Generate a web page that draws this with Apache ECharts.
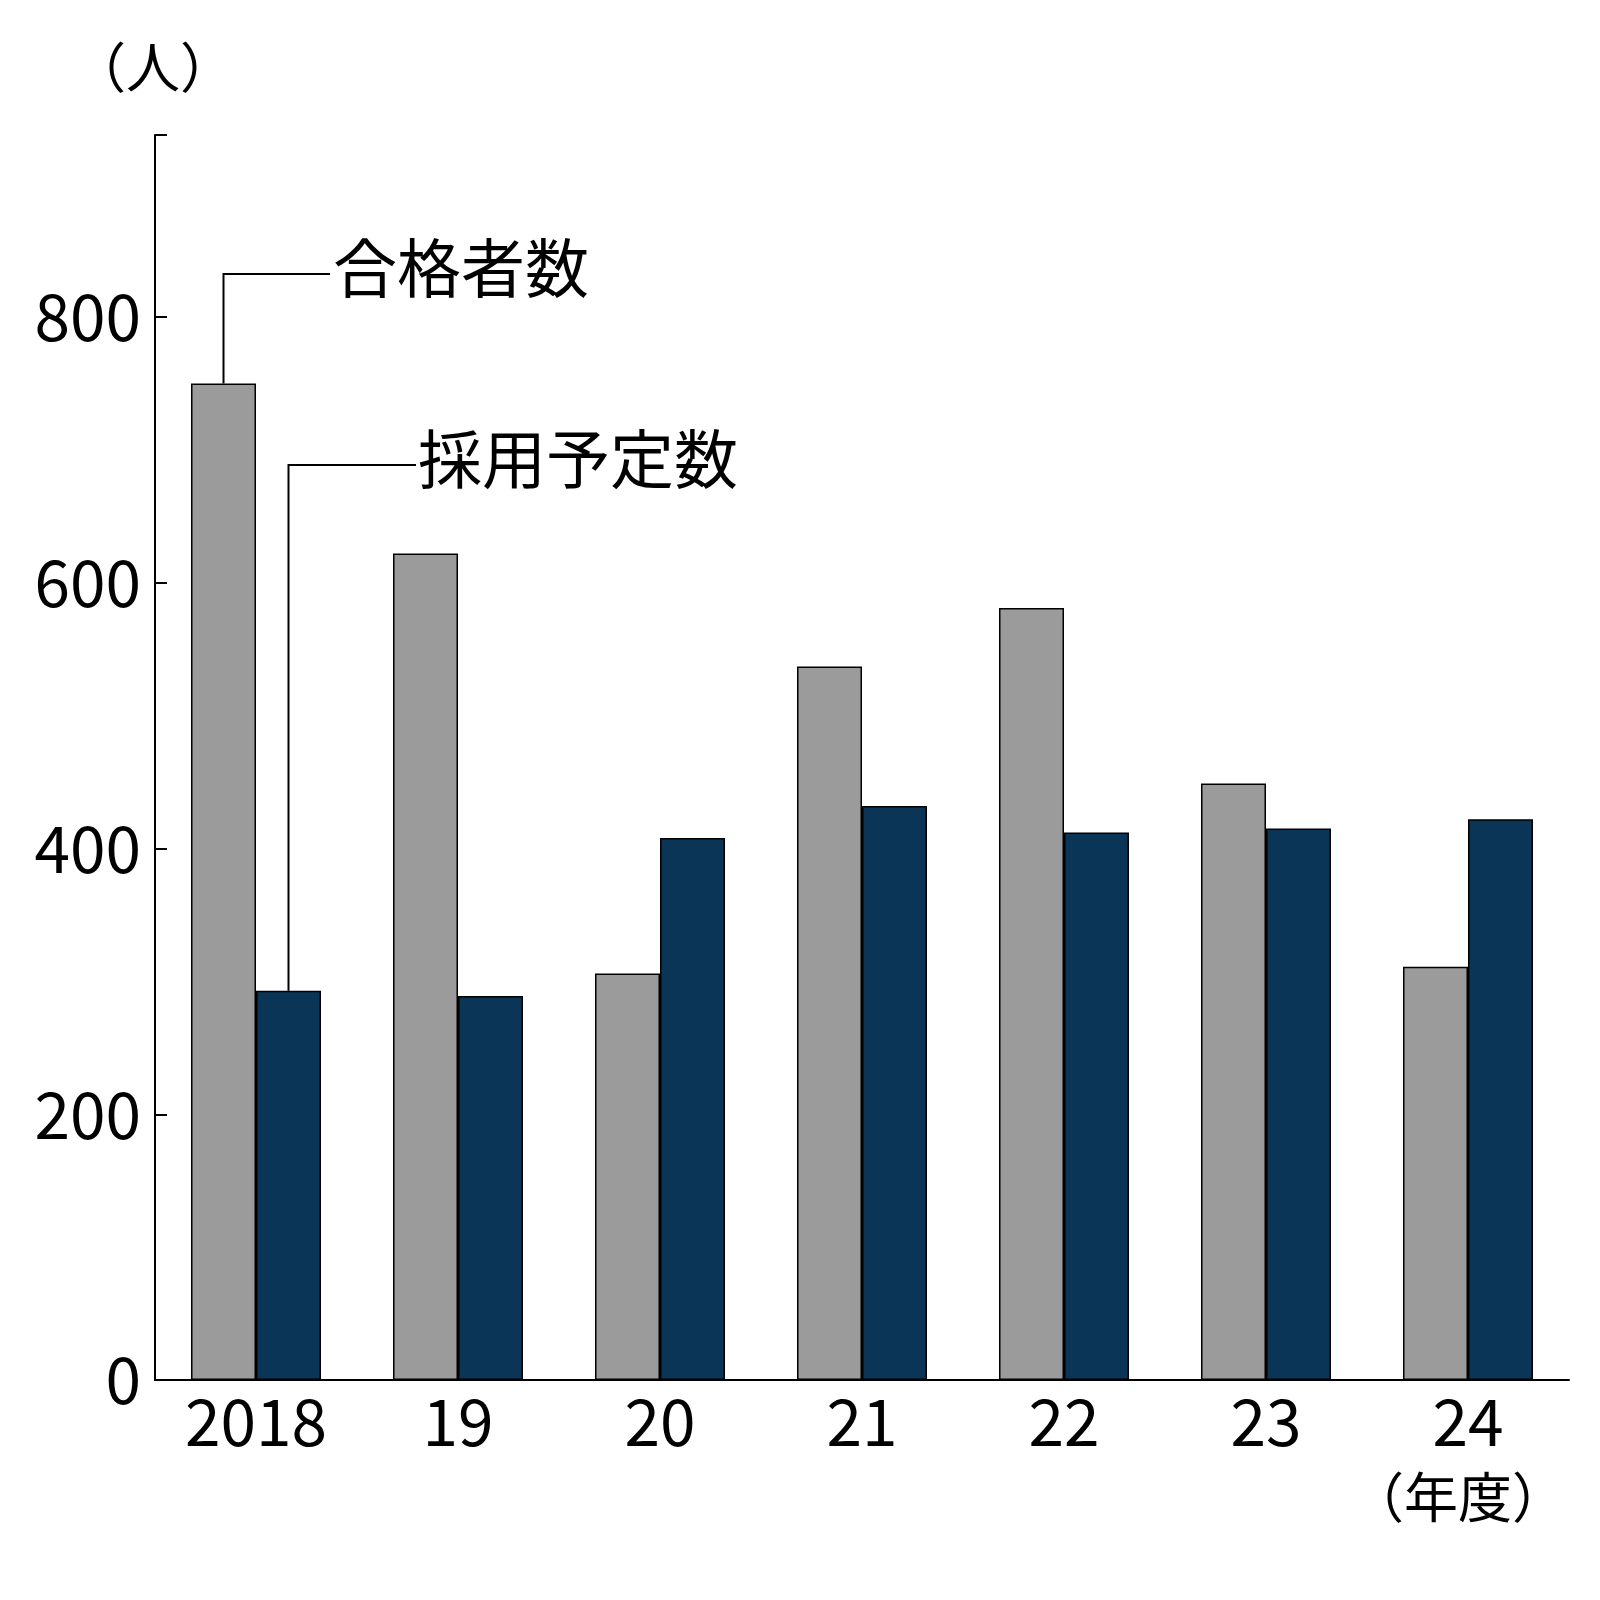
<!DOCTYPE html><html><head><meta charset="utf-8">
<script src="https://cdn.jsdelivr.net/npm/echarts@6/dist/echarts.min.js"></script>
<style>body{margin:0}#c{width:1600px;height:1600px}</style></head><body><div id="c"></div>
<script>
const categories=['2018','19','20','21','22','23','24'];
const passers=[750,622,306,537,581,449,311];
const hires=[293,289,408,432,412,415,422];
const yTicks=[0,200,400,600,800];
const F='"Noto Sans CJK JP"';
const chart=echarts.init(document.getElementById('c'));
const BW=65;
chart.setOption({
 animation:false,backgroundColor:'#fff',
 grid:{left:155,right:31,top:135,bottom:220},
 xAxis:{type:'category',data:categories,axisLine:{lineStyle:{color:'#000',width:2}},axisTick:{show:false},
  axisLabel:{color:'#000',fontSize:64,fontFamily:F,margin:10}},
 yAxis:{type:'value',min:0,max:937,interval:200,splitLine:{show:false},
  axisLine:{show:true,lineStyle:{color:'#000',width:2}},
  axisTick:{show:true,inside:true,length:12,lineStyle:{color:'#000',width:2}},
  axisLabel:{color:'#000',fontSize:64,fontFamily:F,margin:14,formatter:v=>yTicks.includes(v)?String(v):''}},
 series:[
  {type:'bar',data:passers,barWidth:BW,barGap:'0%',itemStyle:{color:'#9b9b9b',borderColor:'#000',borderWidth:1.5}},
  {type:'bar',data:hires,barWidth:BW,itemStyle:{color:'#0b3557',borderColor:'#000',borderWidth:1.5}}
 ]
});
const g=chart.convertToPixel({gridIndex:0},[categories[0],passers[0]]);
const b=chart.convertToPixel({gridIndex:0},[categories[0],hires[0]]);
const gx=g[0]-BW/2, bx=b[0]+BW/2;
chart.setOption({graphic:[
  {type:'text',left:72,top:40,style:{text:'（人）',fontSize:54,fontFamily:F,fill:'#000'}},
  {type:'text',left:1350,top:1470,style:{text:'（年度）',fontSize:54,fontFamily:F,fill:'#000'}},
  {type:'polyline',shape:{points:[[gx,g[1]],[gx,274],[330,274]]},style:{stroke:'#000',lineWidth:2,fill:null}},
  {type:'text',left:333,top:236,style:{text:'合格者数',fontSize:64,fontFamily:F,fill:'#000'}},
  {type:'polyline',shape:{points:[[bx,b[1]],[bx,465],[416,465]]},style:{stroke:'#000',lineWidth:2,fill:null}},
  {type:'text',left:418,top:427,style:{text:'採用予定数',fontSize:64,fontFamily:F,fill:'#000'}}
]});
</script></body></html>
